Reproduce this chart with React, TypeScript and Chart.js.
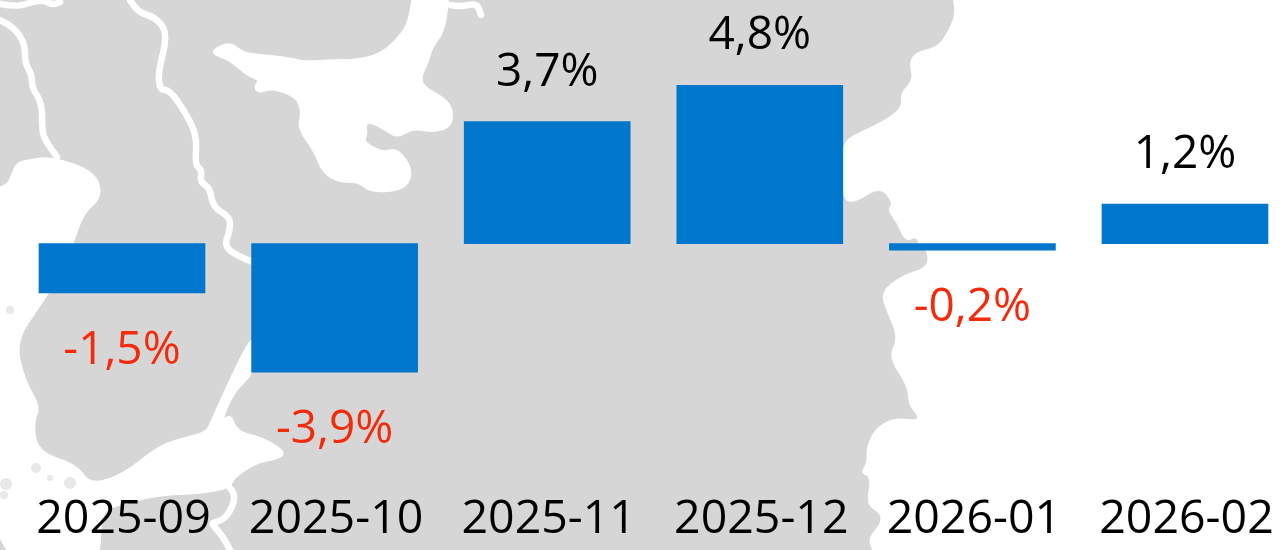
import React, { useEffect, useRef } from "react";
import { Chart, registerables } from "chart.js";

Chart.register(...registerables);

const categories = ["2025-09", "2025-10", "2025-11", "2025-12", "2026-01", "2026-02"];
const changePercent = [-1.5, -3.9, 3.7, 4.8, -0.2, 1.2];

const FONT = '46px "Open Sans"';
const BAR_COLOR = "#0077CC";
const LAND = "#D6D6D6";
const NEGATIVE = "#F42A0C";

// Decorative backdrop map (not data): outlines in page pixels.
const landEdge = [[953,0],[956,12],[948,32],[937,47],[915,52],[909,63],[913,80],[900,93],[902,108],[880,123],[857,133],[843,142],[840,170],[843,200],[855,203],[880,187],[893,203],[887,210],[897,223],[905,242],[917,237],[918,245],[927,250],[928,267],[902,275],[880,292],[887,312],[898,338],[888,357],[908,387],[908,405],[922,421],[895,417],[875,428],[866,448],[867,463],[860,473],[871,477],[866,505],[880,513],[881,523],[868,538],[872,550]];
const bayOutline = [[213,50],[230,42],[243,53],[260,55],[290,58],[303,62],[337,60],[360,60],[383,53],[403,33],[410,17],[415,-20],[450,-20],[445,30],[432,47],[428,62],[420,78],[425,88],[447,100],[453,113],[450,127],[433,132],[413,128],[397,138],[383,128],[370,122],[365,125],[367,135],[363,142],[383,153],[397,148],[413,170],[405,190],[370,192],[360,182],[340,182],[323,173],[315,152],[298,128],[302,113],[297,97],[273,88],[257,93],[255,85],[260,80],[247,75],[230,60],[215,55]];
const seaOutline = [[-20,190],[7,187],[12,175],[17,163],[30,160],[52,157],[95,172],[102,197],[83,213],[73,243],[60,275],[40,305],[15,342],[25,382],[40,407],[33,422],[37,452],[77,465],[90,485],[123,475],[160,445],[190,437],[207,432],[213,418],[243,352],[255,335],[255,372],[233,392],[220,425],[230,413],[237,432],[263,438],[287,453],[273,460],[257,462],[233,478],[230,488],[200,493],[157,495],[117,505],[100,512],[100,570],[-20,570]];
const rivers = [
  [[0,20],[10,25],[20,35],[25,47],[25,63],[32,75],[32,88],[42,103],[42,130],[45,140],[57,157]],
  [[0,4],[17,7],[32,2],[43,0],[53,5],[60,2]],
  [[130,0],[137,12],[155,17],[168,33],[158,73],[160,90],[170,90],[187,115],[197,137],[195,165],[202,170],[200,182],[210,188],[213,207],[230,217],[230,230],[224,247],[240,257],[253,262]],
  [[450,5],[460,7],[477,3],[481,15]],
  [[230,488],[237,495],[227,518],[213,523]],
  [[213,525],[222,535],[230,550]],
];
const specks = [[10,310,4],[6,484,6],[36,468,5],[70,483,6],[4,495,4],[50,478,3]];

function smoothClosed(ctx: CanvasRenderingContext2D, pts: number[][]) {
  ctx.beginPath();
  const n = pts.length;
  ctx.moveTo((pts[n - 1][0] + pts[0][0]) / 2, (pts[n - 1][1] + pts[0][1]) / 2);
  pts.forEach((p, i) => {
    const q = pts[(i + 1) % n];
    ctx.quadraticCurveTo(p[0], p[1], (p[0] + q[0]) / 2, (p[1] + q[1]) / 2);
  });
  ctx.closePath();
}

function smoothOpen(ctx: CanvasRenderingContext2D, pts: number[][]) {
  for (let i = 1; i < pts.length - 1; i++) {
    const p = pts[i];
    const q = pts[i + 1];
    ctx.quadraticCurveTo(p[0], p[1], (p[0] + q[0]) / 2, (p[1] + q[1]) / 2);
  }
  const last = pts[pts.length - 1];
  ctx.lineTo(last[0], last[1]);
}

const backdrop = {
  id: "backdrop",
  beforeDraw(chart: any) {
    const ctx = chart.ctx as CanvasRenderingContext2D;
    ctx.save();
    ctx.fillStyle = LAND;
    ctx.beginPath();
    ctx.moveTo(0, 0);
    ctx.lineTo(landEdge[0][0], landEdge[0][1]);
    smoothOpen(ctx, landEdge);
    ctx.lineTo(0, 550);
    ctx.closePath();
    ctx.fill();
    ctx.fillStyle = "#FFFFFF";
    ctx.strokeStyle = "#FFFFFF";
    ctx.lineJoin = "round";
    ctx.lineCap = "round";
    ctx.lineWidth = 2;
    [bayOutline, seaOutline].forEach((o) => {
      smoothClosed(ctx, o);
      ctx.fill();
      ctx.stroke();
    });
    ctx.lineWidth = 6.5;
    rivers.forEach((r) => {
      ctx.beginPath();
      ctx.moveTo(r[0][0], r[0][1]);
      smoothOpen(ctx, r);
      ctx.stroke();
    });
    ctx.fillStyle = "#E8E8E8";
    specks.forEach(([x, y, r]) => {
      ctx.beginPath();
      ctx.arc(x, y, r, 0, Math.PI * 2);
      ctx.fill();
    });
    ctx.restore();
  },
};

const valueLabels = {
  id: "valueLabels",
  afterDatasetsDraw(chart: any) {
    const ctx = chart.ctx as CanvasRenderingContext2D;
    const meta = chart.getDatasetMeta(0);
    ctx.save();
    ctx.font = FONT;
    ctx.textAlign = "center";
    ctx.textBaseline = "alphabetic";
    meta.data.forEach((bar: any, i: number) => {
      const v = changePercent[i];
      ctx.fillStyle = v < 0 ? NEGATIVE : "#000000";
      const y = v < 0 ? bar.y + 70.5 : bar.y - 36;
      ctx.fillText(v.toFixed(1).replace(".", ",") + "%", bar.x, y);
    });
    ctx.restore();
  },
};

export default function App() {
  const ref = useRef<HTMLCanvasElement>(null);
  useEffect(() => {
    document.body.style.margin = "0";
    document.body.style.overflow = "hidden";
    const chart = new Chart(ref.current!, {
      type: "bar",
      data: {
        labels: categories,
        datasets: [
          {
            data: changePercent,
            backgroundColor: BAR_COLOR,
            barThickness: 166,
            borderWidth: 0,
          },
        ],
      },
      options: {
        animation: false,
        responsive: false,
        layout: { padding: { left: 15.7, right: 8.7, top: 0, bottom: -8 } },
        plugins: { legend: { display: false }, tooltip: { enabled: false } },
        scales: {
          x: {
            border: { display: false },
            grid: { display: false, drawTicks: false },
            ticks: {
              color: "#000000",
              font: { family: "Open Sans", size: 46.5 },
              autoSkip: false,
              maxRotation: 0,
              minRotation: 0,
              padding: 10,
              labelOffset: 1.5,
            },
          },
          y: { display: false, min: -7.24, max: 7.39 },
        },
      },
      plugins: [backdrop, valueLabels],
    });
    return () => chart.destroy();
  }, []);
  return (
    <div style={{ width: 1281, height: 550, overflow: "hidden", position: "relative" }}>
      <canvas ref={ref} width={1300} height={550} style={{ display: "block" }} />
    </div>
  );
}
